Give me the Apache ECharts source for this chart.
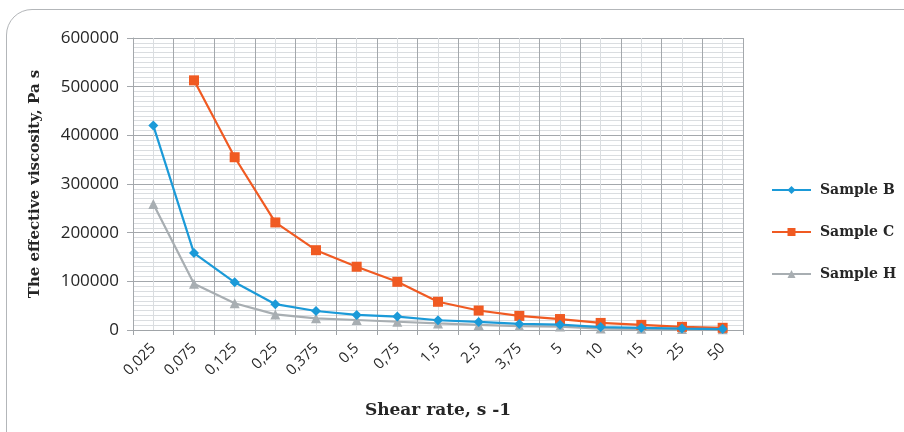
<!DOCTYPE html>
<html>
<head>
<meta charset="utf-8">
<script src="https://cdn.jsdelivr.net/npm/echarts@6/dist/echarts.min.js"></script>
<style>
  html, body { margin: 0; padding: 0; width: 904px; height: 432px; overflow: hidden; background: #fff; }
  .frame {
    position: absolute; left: 6px; top: 9px; width: 940px; height: 460px;
    border: 1.5px solid #b3b6b9; border-radius: 26px; box-sizing: border-box;
  }
  #chart { position: absolute; left: 0; top: 0; width: 904px; height: 432px; }
</style>
</head>
<body>
<div class="frame"></div>
<div id="chart"></div>
<script>
// shear rate categories
const shearRates = ['0,025', '0,075', '0,125', '0,25', '0,375', '0,5', '0,75', '1,5', '2,5', '3,75', '5', '10', '15', '25', '50']
// effective viscosity, Pa s
const sampleB = [420000, 158000, 98000, 53000, 39000, 31000, 27500, 20000, 16500, 12500, 11000, 6000, 4500, 3000, 2000]
const sampleC = [null, 513000, 355000, 221000, 164000, 130000, 99000, 58000, 40000, 29000, 22500, 14500, 10500, 6500, 4500]
const sampleH = [259000, 95000, 55000, 32000, 24000, 20500, 17000, 13500, 10500, 8000, 7000, 3000, 2500, 2000, 1500]
const yTicks = { min: 0, max: 600000, interval: 100000 }

const chart = echarts.init(document.getElementById('chart'))

const serifBold = { fontFamily: 'DejaVu Serif', fontWeight: 'bold', color: '#262626' }

chart.setOption({
  animation: false,
  grid: { left: 133, right: 161, top: 38, bottom: 102 },
  legend: {
    orient: 'vertical',
    left: 766,
    top: 178,
    itemWidth: 39,
    itemHeight: 10,
    itemGap: 28,
    textStyle: { ...serifBold, fontSize: 14, padding: [0, 0, 0, 4] },
    data: ['Sample B', 'Sample C', 'Sample H']
  },
  xAxis: [
    {
      type: 'category',
      data: shearRates,
      boundaryGap: true,
      name: 'Shear rate, s -1',
      nameLocation: 'middle',
      nameGap: 72,
      nameTextStyle: { ...serifBold, fontSize: 17 },
      axisLine: { lineStyle: { color: '#a0a4a8', width: 1 } },
      axisTick: { show: true, length: 5, lineStyle: { color: '#a0a4a8' } },
      axisLabel: {
        rotate: 45, interval: 0, fontSize: 15, color: '#2a2a2a',
        fontFamily: 'Open Sans', margin: 16
      },
      splitLine: { show: false }
    },
    {
      // grid lines only: majors at category edges, minors at category centres
      type: 'value',
      min: 0, max: shearRates.length, interval: 1,
      position: 'bottom',
      axisLine: { show: false }, axisTick: { show: false }, axisLabel: { show: false },
      splitLine: { show: true, lineStyle: { color: '#a4a8ac', width: 1 } },
      minorTick: { show: false, splitNumber: 2 },
      minorSplitLine: { show: true, lineStyle: { color: '#dadde0', width: 1 } }
    }
  ],
  yAxis: {
    type: 'value',
    min: yTicks.min, max: yTicks.max, interval: yTicks.interval,
    name: 'The effective viscosity, Pa s',
    nameLocation: 'middle',
    nameGap: 90,
    nameTextStyle: { ...serifBold, fontSize: 15 },
    axisLine: { show: true, lineStyle: { color: '#a4a8ac' } },
    axisTick: { show: true, length: 6, lineStyle: { color: '#a4a8ac' } },
    axisLabel: {
      fontSize: 17, color: '#262626', fontFamily: 'Open Sans', margin: 14,
      formatter: v => String(v)
    },
    splitLine: { show: true, lineStyle: { color: '#a4a8ac', width: 1 } },
    minorTick: { show: false, splitNumber: 10 },
    minorSplitLine: { show: true, lineStyle: { color: '#dadde0', width: 1 } }
  },
  series: [
    {
      name: 'Sample B', type: 'line', data: sampleB,
      symbol: 'diamond', symbolSize: 10, z: 4,
      itemStyle: { color: '#1b9ad8' },
      lineStyle: { color: '#1b9ad8', width: 2.2 }
    },
    {
      name: 'Sample C', type: 'line', data: sampleC,
      symbol: 'rect', symbolSize: 10, z: 3,
      itemStyle: { color: '#f05a22' },
      lineStyle: { color: '#f05a22', width: 2.2 }
    },
    {
      name: 'Sample H', type: 'line', data: sampleH,
      symbol: 'triangle', symbolSize: 10, z: 2,
      itemStyle: { color: '#a8aeb2' },
      lineStyle: { color: '#a8aeb2', width: 2.2 }
    }
  ]
})
</script>
</body>
</html>
